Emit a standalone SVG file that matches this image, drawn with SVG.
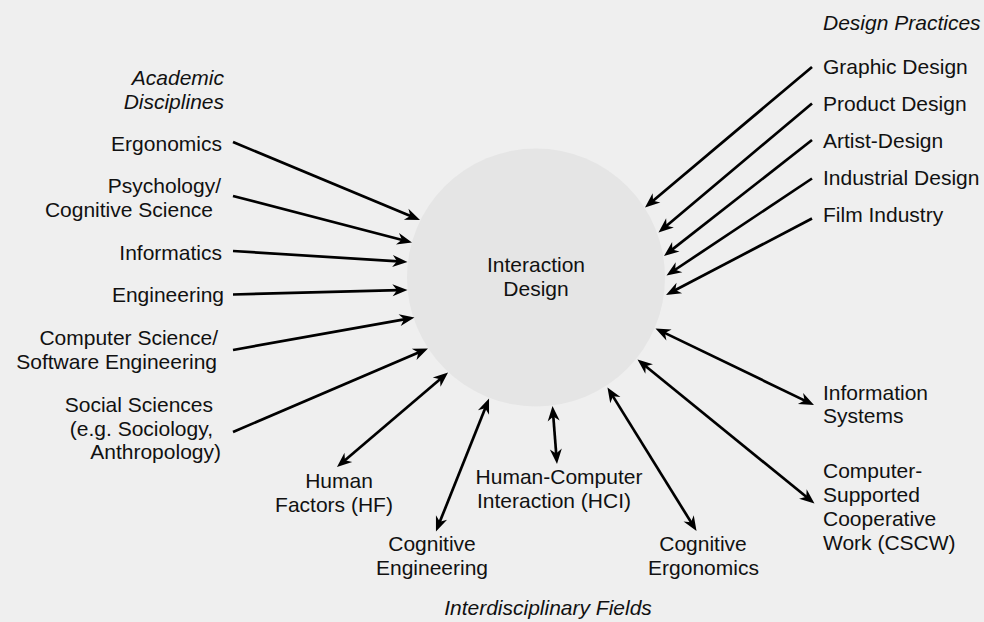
<svg xmlns="http://www.w3.org/2000/svg" width="984" height="622" viewBox="0 0 984 622">
  <style>
    .lbl { font-family: "Liberation Sans", Arial, sans-serif; font-size: 21px; fill: #111; }
    .cat { font-style: italic; }
    .end { text-anchor: end; }
    .mid { text-anchor: middle; }
    .wire { stroke: #000; stroke-width: 2.7; fill: none; }
    .in { marker-end: url(#head); }
    .both { marker-start: url(#head); marker-end: url(#head); }
  </style>
  <defs>
    <marker id="head" viewBox="-16 -7 17 14" refX="-9" refY="0" markerWidth="17" markerHeight="14" markerUnits="userSpaceOnUse" orient="auto-start-reverse">
      <path d="M0,0 L-15,-6 L-10.5,0 L-15,6 Z" fill="#000"/>
    </marker>
  </defs>

  <rect width="984" height="622" fill="#efefef"/>

  <!-- central field -->
  <g id="interaction-design">
    <circle cx="536" cy="277.5" r="129" fill="#e5e5e5"/>
    <text class="lbl mid" x="536" y="272">Interaction</text>
    <text class="lbl mid" x="536" y="296">Design</text>
  </g>

  <!-- group headings -->
  <g id="heading-academic">
    <text class="lbl cat end" x="224" y="85">Academic</text>
    <text class="lbl cat end" x="224" y="109">Disciplines</text>
  </g>
  <g id="heading-design">
    <text class="lbl cat" x="823" y="30">Design Practices</text>
  </g>
  <g id="heading-interdisciplinary">
    <text class="lbl cat mid" x="548" y="615">Interdisciplinary Fields</text>
  </g>

  <!-- academic disciplines -->
  <g id="ergonomics"><text class="lbl end" x="222" y="151">Ergonomics</text></g>
  <g id="psychology">
    <text class="lbl end" x="221" y="193">Psychology/</text>
    <text class="lbl end" x="213" y="217">Cognitive Science</text>
  </g>
  <g id="informatics"><text class="lbl end" x="222" y="260">Informatics</text></g>
  <g id="engineering"><text class="lbl end" x="224" y="302">Engineering</text></g>
  <g id="computer-science">
    <text class="lbl end" x="218" y="345">Computer Science/</text>
    <text class="lbl end" x="217" y="369">Software Engineering</text>
  </g>
  <g id="social-sciences">
    <text class="lbl end" x="213" y="412">Social Sciences</text>
    <text class="lbl end" x="213" y="436">(e.g. Sociology,</text>
    <text class="lbl end" x="221" y="459">Anthropology)</text>
  </g>

  <!-- design practices -->
  <g id="graphic-design"><text class="lbl" x="823" y="74">Graphic Design</text></g>
  <g id="product-design"><text class="lbl" x="823" y="111">Product Design</text></g>
  <g id="artist-design"><text class="lbl" x="823" y="148">Artist-Design</text></g>
  <g id="industrial-design"><text class="lbl" x="823" y="185">Industrial Design</text></g>
  <g id="film-industry"><text class="lbl" x="823" y="222">Film Industry</text></g>

  <!-- interdisciplinary fields -->
  <g id="information-systems">
    <text class="lbl" x="823" y="400">Information</text>
    <text class="lbl" x="823" y="423">Systems</text>
  </g>
  <g id="cscw">
    <text class="lbl" x="823" y="478">Computer-</text>
    <text class="lbl" x="823" y="502">Supported</text>
    <text class="lbl" x="823" y="526">Cooperative</text>
    <text class="lbl" x="823" y="550">Work (CSCW)</text>
  </g>
  <g id="cognitive-ergonomics">
    <text class="lbl mid" x="703" y="551">Cognitive</text>
    <text class="lbl mid" x="703.5" y="575">Ergonomics</text>
  </g>
  <g id="hci">
    <text class="lbl mid" x="559" y="484">Human-Computer</text>
    <text class="lbl mid" x="554" y="508">Interaction (HCI)</text>
  </g>
  <g id="cognitive-engineering">
    <text class="lbl mid" x="432" y="551">Cognitive</text>
    <text class="lbl mid" x="432" y="575">Engineering</text>
  </g>
  <g id="human-factors">
    <text class="lbl mid" x="339" y="488">Human</text>
    <text class="lbl mid" x="334" y="512">Factors (HF)</text>
  </g>

  <!-- connectors -->
  <g id="connectors">
    <!-- disciplines feeding in -->
    <line class="wire in" x1="233" y1="142" x2="411.7" y2="216.5"/>
    <line class="wire in" x1="233" y1="196" x2="403.3" y2="240.2"/>
    <line class="wire in" x1="233" y1="251" x2="398.5" y2="261.4"/>
    <line class="wire in" x1="233" y1="294.5" x2="398.5" y2="290.2"/>
    <line class="wire in" x1="233" y1="350" x2="405.6" y2="319.1"/>
    <line class="wire in" x1="233" y1="432" x2="419.7" y2="352"/>
    <!-- design practices feeding in -->
    <line class="wire in" x1="812" y1="67" x2="651.9" y2="201.7"/>
    <line class="wire in" x1="812" y1="103.5" x2="665.4" y2="226.7"/>
    <line class="wire in" x1="812" y1="140" x2="671.1" y2="250.4"/>
    <line class="wire in" x1="812" y1="178.5" x2="674" y2="270.5"/>
    <line class="wire in" x1="812" y1="218.5" x2="674" y2="290.8"/>
    <!-- two-way exchange with interdisciplinary fields -->
    <line class="wire both" x1="663.6" y1="332.4" x2="805.9" y2="401.1"/>
    <line class="wire both" x1="644.5" y1="365.2" x2="807.5" y2="497.8"/>
    <line class="wire both" x1="612.2" y1="395.1" x2="691.8" y2="523.4"/>
    <line class="wire both" x1="553.2" y1="415" x2="556.3" y2="455"/>
    <line class="wire both" x1="485.7" y1="406.9" x2="439.3" y2="523.1"/>
    <line class="wire both" x1="441.2" y1="378.3" x2="343.8" y2="461.2"/>
  </g>
</svg>
